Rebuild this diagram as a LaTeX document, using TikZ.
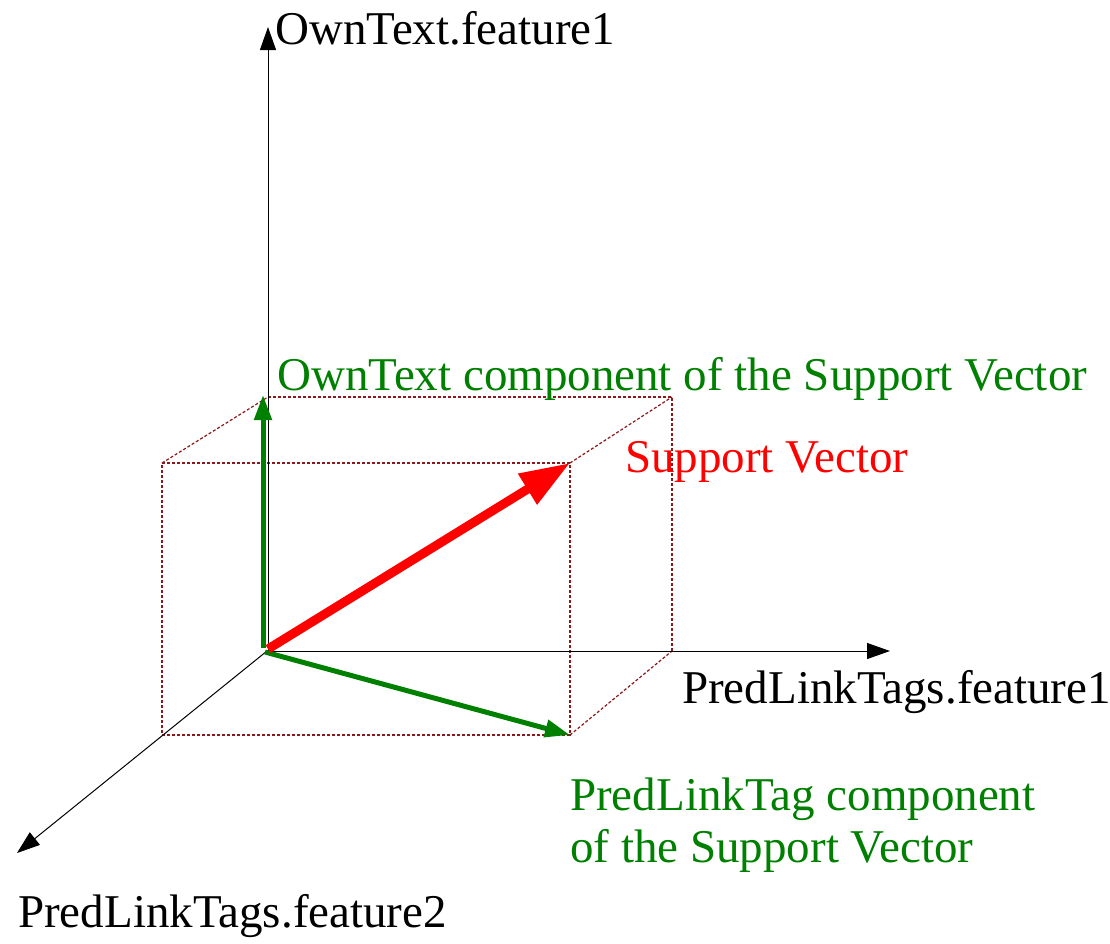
\documentclass[tikz,border=0pt]{standalone}
\usepackage{fontspec}
\setmainfont{Liberation Serif}
\usetikzlibrary{arrows.meta}
\definecolor{boxred}{RGB}{140,25,25}
\definecolor{vecgreen}{RGB}{0,128,0}
\definecolor{vecred}{RGB}{255,0,0}

\begin{document}
\begin{tikzpicture}[x=1pt,y=-1pt,
  axis/.style={line width=1pt, -{Triangle[length=23pt,width=16pt]}},
  boxedge/.style={boxred, line width=1.2pt, dash pattern=on 3pt off 2pt},
  comp/.style={vecgreen, line width=5pt, -{Triangle[length=25pt,width=17pt]}},
  supvec/.style={vecred, line width=9pt, -{Triangle[length=50pt,width=34pt]}},
  lbl/.style={inner sep=0pt, anchor=base west, font=\fontsize{47}{52}\selectfont}
]
\useasboundingbox (0,0) rectangle (1110,943);

% origin and axis ends
\coordinate (O)  at (267,651);
\coordinate (Ov) at (268,651);
\coordinate (Yend) at (268,27);
\coordinate (Xend) at (890,651);
\coordinate (Zend) at (17,853);

% corners of the component box
\coordinate (bTL) at (268,397);
\coordinate (bTR) at (672,397);
\coordinate (bBR) at (672,651);
\coordinate (fTL) at (162,463);
\coordinate (fTR) at (570,463);
\coordinate (fBR) at (570,735);
\coordinate (fBL) at (162,735);

% vector end points
\coordinate (Gv0) at (263,648);
\coordinate (Gv1) at (263,395);
\coordinate (Gh0) at (265,652);
\coordinate (Sv0) at (268,649);

% dashed box
\draw[boxedge] (bTL) -- (bTR) -- (bBR);
\draw[boxedge] (fTL) -- (fTR) -- (fBR) -- (fBL) -- cycle;
\draw[boxedge] (fTL) -- (bTL);
\draw[boxedge] (fTR) -- (bTR);
\draw[boxedge] (fBR) -- (bBR);

% axes
\draw[axis] (Ov) -- (Yend);
\draw[axis] (O) -- (Xend);
\draw[axis] (O) -- (Zend);

% components and the support vector
\draw[comp] (Gv0) -- (Gv1);
\draw[comp] (Gh0) -- (fBR);
\draw[supvec] (Sv0) -- (fTR);

% labels
\node[lbl] (ylabel) at (275,44) {OwnText.feature1};
\node[lbl] (xlabel) at (682,703) {PredLinkTags.feature1};
\node[lbl] (zlabel) at (18,927) {PredLinkTags.feature2};
\node[lbl, text=vecgreen] (owncomp) at (277,390) {OwnText component of the Support Vector};
\node[lbl, text=vecred] (svlabel) at (625,472) {Support Vector};
\node[lbl, text=vecgreen] (predcompa) at (570,810) {PredLinkTag component};
\node[lbl, text=vecgreen] (predcompb) at (570,862) {of the Support Vector};
\end{tikzpicture}
\end{document}
